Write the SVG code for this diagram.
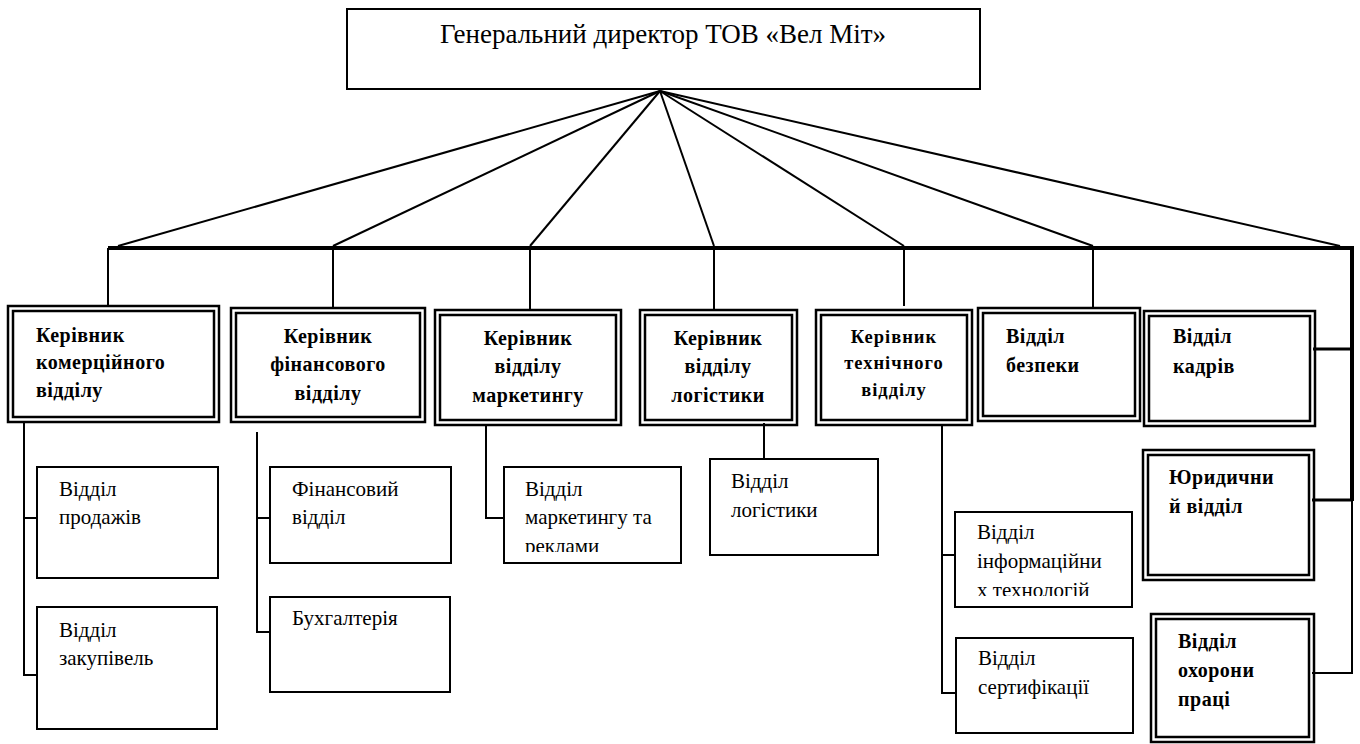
<svg xmlns="http://www.w3.org/2000/svg" width="1360" height="744" viewBox="0 0 1360 744">
<style>
  .bg{fill:#fff}
  .thin{fill:#fff;stroke:#000;stroke-width:2}
  .dbl{fill:none;stroke:#000;stroke-width:2.5}
  .ln{stroke:#000;stroke-width:2;fill:none}
  .bus{stroke:#000;stroke-width:4;fill:none}
  .mid{stroke:#000;stroke-width:3;fill:none}
  text{font-family:'Liberation Serif','Times New Roman','DejaVu Serif',serif;fill:#000}
  .t{font-size:21px}
  .b{font-size:20px;font-weight:bold;letter-spacing:0.5px}
  .bs{font-size:18.5px;font-weight:bold;letter-spacing:1px}
  .title{font-size:27px}
</style>
<defs>
  <clipPath id="clipMkt"><rect x="504" y="467" width="177" height="85"/></clipPath>
  <clipPath id="clipIT"><rect x="955" y="512" width="177" height="84"/></clipPath>
</defs>
<rect class="bg" x="0" y="0" width="1360" height="744"/>

<g id="connectors">
  <line class="ln" x1="660" y1="91" x2="118" y2="246"/>
  <line class="ln" x1="660" y1="91" x2="333" y2="246"/>
  <line class="ln" x1="660" y1="91" x2="530" y2="246"/>
  <line class="ln" x1="660" y1="91" x2="714" y2="246"/>
  <line class="ln" x1="660" y1="91" x2="904" y2="246"/>
  <line class="ln" x1="660" y1="91" x2="1093" y2="246"/>
  <line class="ln" x1="660" y1="91" x2="1340" y2="246"/>
  <line class="bus" x1="108" y1="248" x2="1354" y2="248"/>
  <line class="bus" x1="1352" y1="246" x2="1352" y2="501"/>
  <line class="ln" x1="1352" y1="500" x2="1352" y2="674"/>
  <line class="ln" x1="108" y1="248" x2="108" y2="306"/>
  <line class="ln" x1="333" y1="248" x2="333" y2="308"/>
  <line class="ln" x1="530" y1="248" x2="530" y2="310"/>
  <line class="ln" x1="714" y1="248" x2="714" y2="310"/>
  <line class="ln" x1="904" y1="248" x2="904" y2="306"/>
  <line class="ln" x1="1093" y1="248" x2="1093" y2="308"/>
  <line class="mid" x1="1313" y1="349" x2="1352" y2="349"/>
  <line class="mid" x1="1312" y1="500" x2="1352" y2="500"/>
  <line class="ln" x1="1312" y1="673" x2="1352" y2="673"/>
  <polyline class="ln" points="24,423 24,675 37,675"/>
  <line class="ln" x1="24" y1="518" x2="37" y2="518"/>
  <polyline class="ln" points="257,432 257,632 270,632"/>
  <line class="ln" x1="257" y1="518" x2="270" y2="518"/>
  <polyline class="ln" points="486,426 486,518 504,518"/>
  <line class="ln" x1="764" y1="423" x2="764" y2="459"/>
  <polyline class="ln" points="942,426 942,693 955,693"/>
  <line class="ln" x1="942" y1="555" x2="955" y2="555"/>
</g>

<g id="director">
  <rect class="thin" x="347" y="9" width="633" height="80"/>
  <text class="title" x="663" y="43" text-anchor="middle">Генеральний директор ТОВ «Вел Міт»</text>
</g>

<g id="kom">
  <rect class="dbl" x="8" y="306" width="211" height="116"/>
  <rect class="dbl" x="13" y="311" width="201" height="106"/>
  <text class="b" x="36" y="342">Керівник</text>
  <text class="b" x="36" y="369">комерційного</text>
  <text class="b" x="36" y="397">відділу</text>
</g>
<g id="fin">
  <rect class="dbl" x="231" y="308" width="194" height="114"/>
  <rect class="dbl" x="236" y="313" width="184" height="104"/>
  <text class="b" x="328" y="343" text-anchor="middle">Керівник</text>
  <text class="b" x="328" y="371" text-anchor="middle">фінансового</text>
  <text class="b" x="328" y="400" text-anchor="middle">відділу</text>
</g>
<g id="mkt">
  <rect class="dbl" x="435" y="310" width="186" height="115"/>
  <rect class="dbl" x="440" y="315" width="176" height="105"/>
  <text class="b" x="528" y="345" text-anchor="middle">Керівник</text>
  <text class="b" x="528" y="373" text-anchor="middle">відділу</text>
  <text class="b" x="528" y="402" text-anchor="middle">маркетингу</text>
</g>
<g id="log">
  <rect class="dbl" x="640" y="310" width="157" height="115"/>
  <rect class="dbl" x="645" y="315" width="147" height="105"/>
  <text class="b" x="718" y="345" text-anchor="middle">Керівник</text>
  <text class="b" x="718" y="373" text-anchor="middle">відділу</text>
  <text class="b" x="718" y="402" text-anchor="middle">логістики</text>
</g>
<g id="tech">
  <rect class="dbl" x="816" y="310" width="156" height="115"/>
  <rect class="dbl" x="821" y="315" width="146" height="105"/>
  <text class="bs" x="894" y="343" text-anchor="middle">Керівник</text>
  <text class="bs" x="894" y="369" text-anchor="middle">технічного</text>
  <text class="bs" x="894" y="396" text-anchor="middle">відділу</text>
</g>
<g id="bezpeka">
  <rect class="dbl" x="978" y="308" width="162" height="113"/>
  <rect class="dbl" x="983" y="313" width="152" height="103"/>
  <text class="b" x="1006" y="343">Відділ</text>
  <text class="b" x="1006" y="372">безпеки</text>
</g>
<g id="kadry">
  <rect class="dbl" x="1144" y="311" width="171" height="115"/>
  <rect class="dbl" x="1149" y="316" width="161" height="105"/>
  <text class="b" x="1173" y="343">Відділ</text>
  <text class="b" x="1173" y="373">кадрів</text>
</g>
<g id="yur">
  <rect class="dbl" x="1143" y="450" width="171" height="130"/>
  <rect class="dbl" x="1148" y="455" width="161" height="120"/>
  <text class="b" x="1169" y="484">Юридични</text>
  <text class="b" x="1169" y="513">й відділ</text>
</g>
<g id="okhorona">
  <rect class="dbl" x="1151" y="614" width="163" height="128"/>
  <rect class="dbl" x="1156" y="619" width="153" height="118"/>
  <text class="b" x="1178" y="648">Відділ</text>
  <text class="b" x="1178" y="677">охорони</text>
  <text class="b" x="1178" y="706">праці</text>
</g>

<g id="prodazh">
  <rect class="thin" x="37" y="467" width="181" height="111"/>
  <text class="t" x="59" y="496">Відділ</text>
  <text class="t" x="59" y="524">продажів</text>
</g>
<g id="zakup">
  <rect class="thin" x="37" y="607" width="180" height="122"/>
  <text class="t" x="59" y="637">Відділ</text>
  <text class="t" x="59" y="665">закупівель</text>
</g>
<g id="finviddil">
  <rect class="thin" x="270" y="467" width="181" height="96"/>
  <text class="t" x="292" y="496">Фінансовий</text>
  <text class="t" x="292" y="524">відділ</text>
</g>
<g id="buh">
  <rect class="thin" x="270" y="597" width="180" height="95"/>
  <text class="t" x="292" y="625">Бухгалтерія</text>
</g>
<g id="mktviddil">
  <rect class="thin" x="504" y="467" width="177" height="96"/>
  <g clip-path="url(#clipMkt)">
    <text class="t" x="525" y="496">Відділ</text>
    <text class="t" x="525" y="524">маркетингу та</text>
    <text class="t" x="525" y="553">реклами</text>
  </g>
</g>
<g id="logviddil">
  <rect class="thin" x="710" y="459" width="168" height="96"/>
  <text class="t" x="731" y="488">Відділ</text>
  <text class="t" x="731" y="517">логістики</text>
</g>
<g id="it">
  <rect class="thin" x="955" y="512" width="177" height="95"/>
  <g clip-path="url(#clipIT)">
    <text class="t" x="977" y="539">Відділ</text>
    <text class="t" x="977" y="568">інформаційни</text>
    <text class="t" x="977" y="597">х технологій</text>
  </g>
</g>
<g id="sert">
  <rect class="thin" x="956" y="638" width="177" height="95"/>
  <text class="t" x="978" y="665">Відділ</text>
  <text class="t" x="978" y="694">сертифікації</text>
</g>
</svg>
